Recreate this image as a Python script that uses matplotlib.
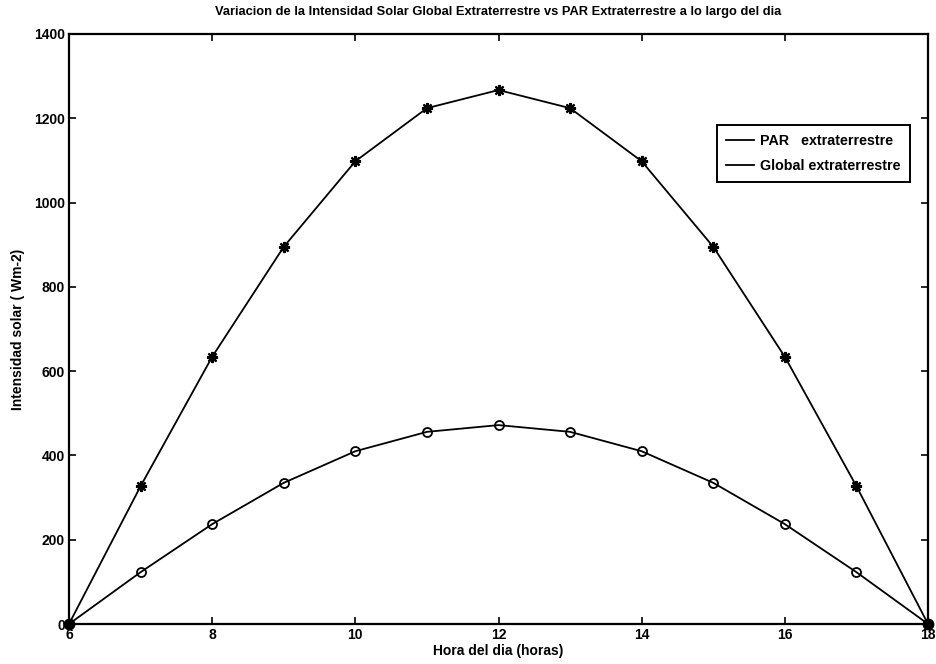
import matplotlib
matplotlib.use("Agg")
import matplotlib.pyplot as plt

# Hourly extraterrestrial irradiance (W m-2)
horas = [6, 7, 8, 9, 10, 11, 12, 13, 14, 15, 16, 17, 18]
global_extra = [0, 327, 634, 895, 1098, 1224, 1267, 1224, 1098, 895, 634, 327, 0]
par_extra = [0, 123, 237, 335, 410, 456, 472, 456, 410, 335, 237, 123, 0]

x_ticks = [6, 8, 10, 12, 14, 16, 18]
y_ticks = [0, 200, 400, 600, 800, 1000, 1200, 1400]

titulo = "Variacion de la Intensidad Solar Global Extraterrestre vs PAR Extraterrestre a lo largo del dia"
etiqueta_x = "Hora del dia (horas)"
etiqueta_y = "Intensidad solar ( Wm-2)"
leyenda = ["PAR   extraterrestre", "Global extraterrestre"]

plt.rcParams["font.family"] = ["Liberation Sans", "DejaVu Sans"]

fig = plt.figure(figsize=(9.36, 6.64), dpi=100)
ax = fig.add_axes([0.0737, 0.0602, 0.9178, 0.8886])

asterisco = (8, 2, 0)
l1, = ax.plot(horas, global_extra, color="black", lw=1.3,
              marker=asterisco, markersize=8, markeredgewidth=1.6)
l2, = ax.plot(horas, par_extra, color="black", lw=1.3,
              marker="o", markersize=6.5, markerfacecolor="none", markeredgewidth=1.3)
# filled end points at sunrise and sunset
ends_x = [horas[0], horas[-1]]
ends_y = [global_extra[0], global_extra[-1]]
ax.plot(ends_x, ends_y, linestyle="none", marker="o", markersize=7.5,
        color="black", clip_on=False, zorder=5)

ax.set_xlim(6, 18)
ax.set_ylim(0, 1400)
ax.set_xticks(x_ticks)
ax.set_yticks(y_ticks)
ax.tick_params(direction="in", length=5, width=1.2, top=True, right=True,
               labelsize=10, pad=3)
for lab in ax.get_xticklabels() + ax.get_yticklabels():
    lab.set_fontweight("bold")
for s in ax.spines.values():
    s.set_linewidth(1.6)

ax.set_title(titulo, fontsize=9.3, fontweight="bold", pad=14)
ax.set_xlabel(etiqueta_x, fontsize=10, fontweight="bold", labelpad=1)
ax.set_ylabel(etiqueta_y, fontsize=10, fontweight="bold", labelpad=6)

leg = ax.legend([l1, l2], leyenda, loc="upper right", bbox_to_anchor=(0.979, 0.846),
                borderaxespad=0, handlelength=2.0, handletextpad=0.4,
                borderpad=0.65, labelspacing=0.75,
                fancybox=False, edgecolor="black", framealpha=1,
                prop={"size": 10.3, "weight": "bold"})
for h in leg.get_lines():
    h.set_marker("")
leg.get_frame().set_linewidth(1.4)

fig.savefig("out.png", dpi=100)
